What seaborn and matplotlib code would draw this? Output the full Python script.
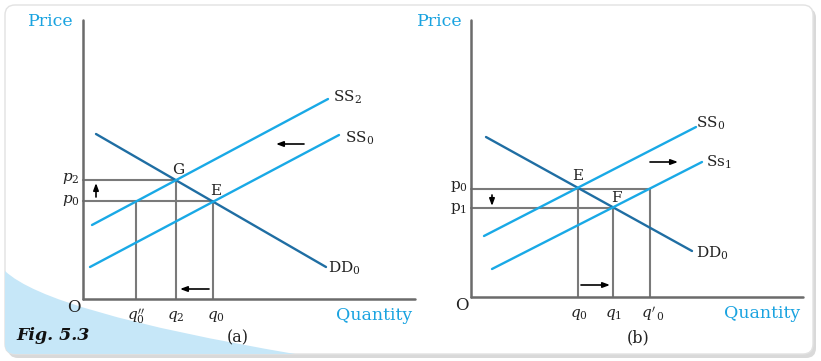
import matplotlib
matplotlib.use("Agg")
import matplotlib.pyplot as plt
import seaborn as sns
import numpy as np
from matplotlib.patches import FancyBboxPatch, PathPatch
from matplotlib.path import Path

sns.set_theme(style="white")
plt.rcParams['font.family'] = ['DejaVu Serif']
plt.rcParams['mathtext.fontset'] = 'dejavuserif'

# ---------------- data (diagram units = pixel grid of the figure) -------------
# Panel (a)
a_axis_x = [83, 83, 415]
a_axis_y = [20, 299, 299]
a_dd0 = ([96, 326], [134, 267])
a_ss2 = ([92, 328], [225, 99])
a_ss0 = ([90, 339], [267, 135])
a_hlines = [(180, 83, 176), (201, 83, 213)]          # y, x0, x1
a_vlines = [(136, 201, 299), (176, 180, 299), (213, 201, 299)]  # x, y0, y1
a_arrows = [((96, 197), (96, 183)), ((209, 289), (180, 289)), ((304, 144), (276, 144))]
a_xticks = [136, 176, 216]
a_xticklabels = [r"$q_0''$", r"$q_2$", r"$q_0$"]
a_yticks = [178, 200]
a_yticklabels = [r"$p_2$", r"$p_0$"]

# Panel (b)
b_axis_x = [471, 471, 803]
b_axis_y = [20, 297, 297]
b_dd0 = ([486, 692], [137, 251])
b_ss0 = ([484, 696], [236, 127])
b_ss1 = ([492, 702], [269, 162])
b_hlines = [(189, 471, 650), (208, 471, 613)]
b_vlines = [(578, 189, 297), (613, 208, 297), (650, 189, 297)]
b_arrows = [((492, 195), (492, 206)), ((581, 285), (610, 285)), ((650, 162), (678, 162))]
b_xticks = [579, 614, 653]
b_xticklabels = [r"$q_0$", r"$q_1$", r"$q'_{\,0}$"]
b_yticks = [186, 208]
b_yticklabels = [r"$\mathrm{p}_0$", r"$\mathrm{p}_1$"]

SUPPLY = "#19a9e6"
DEMAND = "#1f6ea3"
AXIS = "#6b6b6b"
GUIDE = "#7a7a7a"
LABEL_BLUE = "#1aa3e0"

fig = plt.figure(figsize=(8.21, 3.61), dpi=100)
ax = fig.add_axes([0, 0, 1, 1])
ax.set_xlim(0, 821)
ax.set_ylim(361, 0)
ax.axis("off")

# card background with shadow
shadow = FancyBboxPatch((8, 8), 808, 350, boxstyle="round,pad=0,rounding_size=10",
                        facecolor="#d9d9d9", edgecolor="none", zorder=0)
ax.add_patch(shadow)
card = FancyBboxPatch((5, 5), 808, 349, boxstyle="round,pad=0,rounding_size=10",
                      facecolor="white", edgecolor="#e2e2e2", lw=1.0, zorder=0.5)
ax.add_patch(card)
verts = [(5, 271), (48, 312), (295, 354), (5, 354), (5, 271)]
codes = [Path.MOVETO, Path.CURVE3, Path.CURVE3, Path.LINETO, Path.CLOSEPOLY]
swoosh = PathPatch(Path(verts, codes), facecolor="#c6e7f8", edgecolor="none", zorder=0.8)
ax.add_patch(swoosh)
swoosh.set_clip_path(card)


def seg(xs, ys, color, lw, z):
    sns.lineplot(x=xs, y=ys, color=color, lw=lw, ax=ax, sort=False,
                 estimator=None, errorbar=None, zorder=z)


def panel(axis_x, axis_y, curves, hlines, vlines, arrows, xt, xtl, yt, ytl):
    for y, x0, x1 in hlines:
        seg([x0, x1], [y, y], GUIDE, 1.5, 2)
    for x, y0, y1 in vlines:
        seg([x, x], [y0, y1], GUIDE, 1.5, 2)
    seg(axis_x[:2], axis_y[:2], AXIS, 1.8, 3)
    seg(axis_x[1:], axis_y[1:], AXIS, 1.8, 3)
    for (xs, ys), c in curves:
        seg(xs, ys, c, 1.7, 4)
    for s, e in arrows:
        ax.annotate("", xy=e, xytext=s,
                    arrowprops=dict(arrowstyle="-|>,head_length=0.35,head_width=0.13",
                                    color="black", lw=1.2, shrinkA=0, shrinkB=0), zorder=5)
    for x, t in zip(xt, xtl):
        ax.text(x, axis_y[1] + 17, t, ha="center", va="center", fontsize=11, color="#222222")
    for y, t in zip(yt, ytl):
        ax.text(axis_x[0] - 12, y, t, ha="center", va="center", fontsize=11, color="#222222")


panel(a_axis_x, a_axis_y, [(a_dd0, DEMAND), (a_ss2, SUPPLY), (a_ss0, SUPPLY)],
      a_hlines, a_vlines, a_arrows, a_xticks, a_xticklabels, a_yticks, a_yticklabels)
panel(b_axis_x, b_axis_y, [(b_dd0, DEMAND), (b_ss0, SUPPLY), (b_ss1, SUPPLY)],
      b_hlines, b_vlines, b_arrows, b_xticks, b_xticklabels, b_yticks, b_yticklabels)

txt = dict(color="#222222", fontsize=11, va="center")
# curve labels
ax.text(333, 97, r"SS$_2$", ha="left", **txt)
ax.text(345, 138, r"SS$_0$", ha="left", **txt)
ax.text(328, 268, r"DD$_0$", ha="left", **txt)
ax.text(696, 123, r"SS$_0$", ha="left", **txt)
ax.text(706, 162, r"Ss$_1$", ha="left", **txt)
ax.text(696, 253, r"DD$_0$", ha="left", **txt)
# points
ax.text(178, 170, "G", ha="center", **txt)
ax.text(216, 191, "E", ha="center", **txt)
ax.text(578, 176, "E", ha="center", **txt)
ax.text(616, 198, "F", ha="center", **txt)
# origins
ax.text(74, 307, "O", ha="center", color="#222222", fontsize=12, va="center")
ax.text(462, 305, "O", ha="center", color="#222222", fontsize=12, va="center")
# axis titles
for x, y, t in [(51, 22, "Price"), (440, 21, "Price"), (374, 316, "Quantity"), (762, 313, "Quantity")]:
    ax.text(x, y, t, ha="center", va="center", fontsize=12.5, color=LABEL_BLUE)
# panel captions
ax.text(238, 338, "(a)", ha="center", va="center", fontsize=11.5, color="#222222")
ax.text(638, 338, "(b)", ha="center", va="center", fontsize=11.5, color="#222222")
ax.text(16, 336, "Fig. 5.3", ha="left", va="center", fontsize=12.5, fontweight="bold",
        fontstyle="italic", color="#111111")

fig.savefig("out.png", dpi=100)
